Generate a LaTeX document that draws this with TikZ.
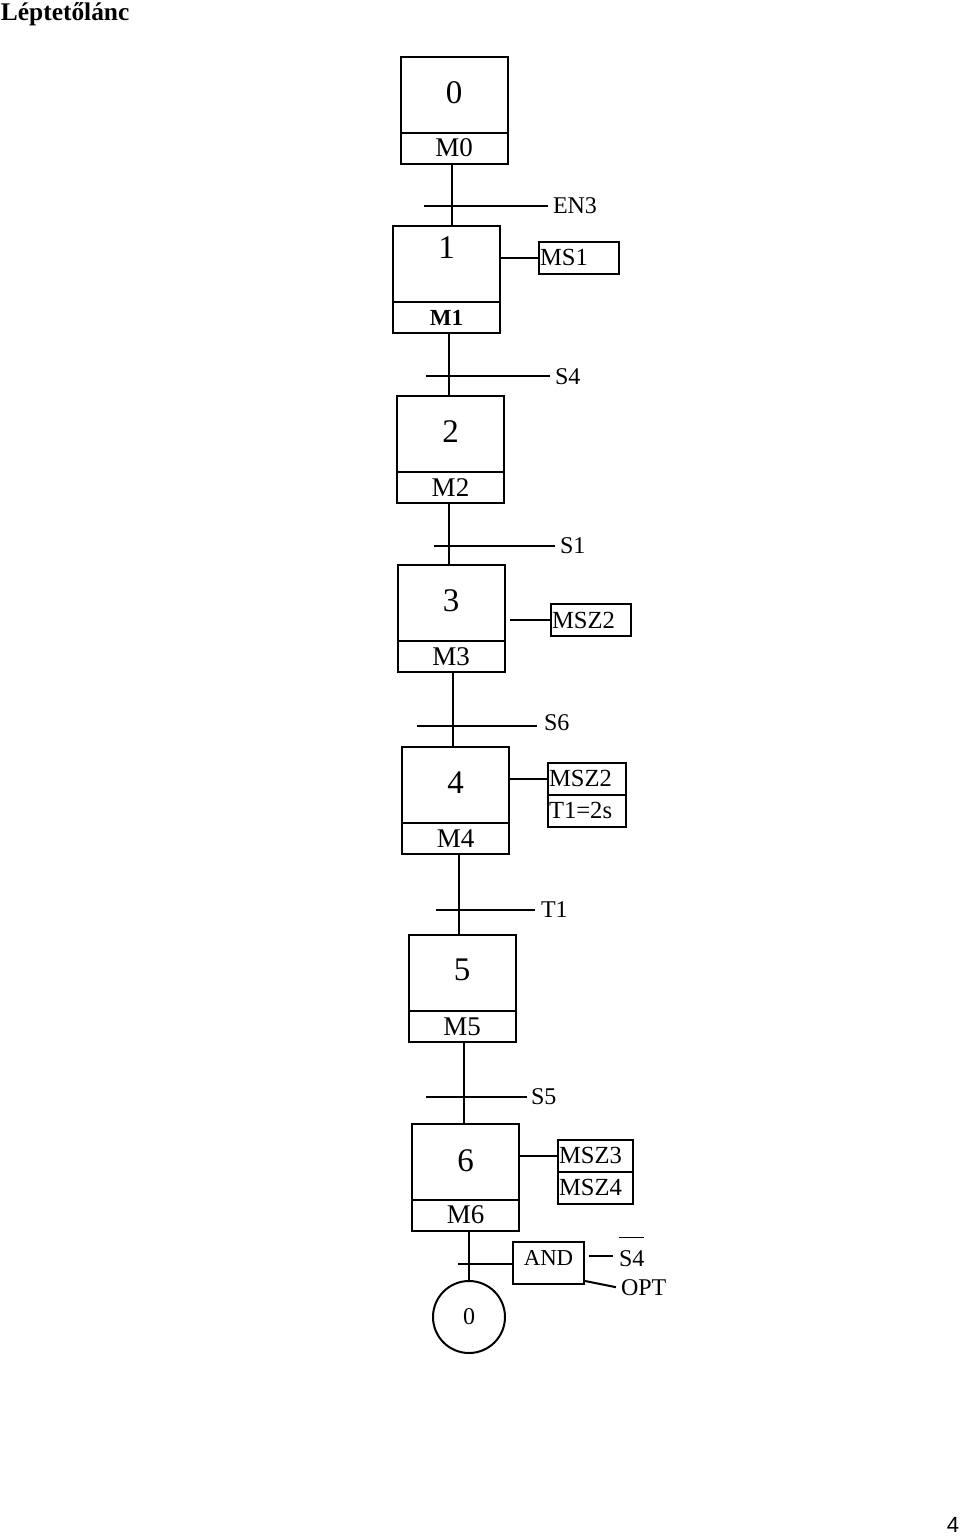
\documentclass[tikz,border=0pt]{standalone}
\usepackage{fontspec}
\setmainfont{Liberation Serif}
\setsansfont{Liberation Sans}
\usepackage{tikz}
\usetikzlibrary{positioning}

\newcommand{\negsig}[1]{\setbox0\hbox{#1}\rlap{\rule[\dimexpr\ht0+6pt\relax]{\wd0}{0.6pt}}#1}

\begin{document}
\begin{tikzpicture}[
    x=0.5pt, y=-0.5pt,
    line width=1pt,
    stepbox/.style={rectangle, draw, minimum width=53.5pt, minimum height=53.5pt, inner sep=0pt, outer sep=0pt},
    markbox/.style={rectangle, draw, minimum width=53.5pt, minimum height=15.5pt, inner sep=0pt, outer sep=0pt, anchor=south, font=\fontsize{13.5}{15}\selectfont},
    stepnum/.style={inner sep=0pt, font=\fontsize{16.5}{18}\selectfont},
    cond/.style={inner xsep=2pt, inner ysep=0pt, anchor=west, font=\fontsize{12}{14}\selectfont},
    actbox/.style={rectangle, draw, text width=#1, align=left, minimum height=16pt, inner xsep=0.5pt, inner ysep=0pt, outer sep=0pt, font=\fontsize{12.3}{14}\selectfont},
    endstep/.style={circle, draw, minimum size=36pt, inner sep=0pt, font=\fontsize{12}{14}\selectfont}
]
    \useasboundingbox (0,0) rectangle (960,1538);

    % Title and page number
    \node[anchor=base west, inner sep=0pt, font=\fontsize{12.7}{15}\selectfont\bfseries] (title) at (0,20) {Léptetőlánc};
    \node[anchor=base east, inner sep=0pt, font=\sffamily\fontsize{11}{13}\selectfont] (page) at (960,1532) {4};

    % Steps
    \node[stepbox] (s0) at (454,110) {};
    \node[markbox] (m0) at (s0.south) {M0};
    \node[stepnum] (n0) at ([yshift=-18pt]s0.north) {0};

    \node[stepbox] (s1) at (446.5,279.5) {};
    \node[markbox, font=\fontsize{11.5}{13}\selectfont\bfseries] (m1) at (s1.south) {M1};
    \node[stepnum] (n1) at ([yshift=-11pt]s1.north) {1};

    \node[stepbox] (s2) at (450.5,449.5) {};
    \node[markbox] (m2) at (s2.south) {M2};
    \node[stepnum] (n2) at ([yshift=-18pt]s2.north) {2};

    \node[stepbox] (s3) at (451,618.5) {};
    \node[markbox] (m3) at (s3.south) {M3};
    \node[stepnum] (n3) at ([yshift=-18pt]s3.north) {3};

    \node[stepbox] (s4) at (455.5,800.5) {};
    \node[markbox] (m4) at (s4.south) {M4};
    \node[stepnum] (n4) at ([yshift=-18pt]s4.north) {4};

    \node[stepbox] (s5) at (462,988.5) {};
    \node[markbox] (m5) at (s5.south) {M5};
    \node[stepnum] (n5) at ([yshift=-17.5pt]s5.north) {5};

    \node[stepbox] (s6) at (465.5,1177) {};
    \node[markbox] (m6) at (s6.south) {M6};
    \node[stepnum] (n6) at ([yshift=-18.5pt]s6.north) {6};

    \node[endstep] (e0) at (469,1317) {0};

    % Actions
    \node[actbox=39pt, anchor=west] (a1) at (539,257.5) {MS1};
    \node[actbox=39pt, anchor=west] (a3) at (551,620) {MSZ2};
    \node[actbox=38pt, anchor=west] (a4) at (548,778.5) {MSZ2};
    \node[actbox=38pt, below=0pt of a4] (a4t) {T1=2s};
    \node[actbox=36.5pt, anchor=west] (a6) at (558,1155.5) {MSZ3};
    \node[actbox=36.5pt, below=0pt of a6] (a6b) {MSZ4};

    \draw (s1.east |- a1.west) -- (a1.west);
    \draw ([xshift=2.5pt]s3.east |- a3.west) -- (a3.west);
    \draw (s4.east |- a4.west) -- (a4.west);
    \draw (s6.east |- a6.west) -- (a6.west);

    % Transitions
    \coordinate (t0) at (452,206);
    \coordinate (t1) at (449,376);
    \coordinate (t2) at (449,546);
    \coordinate (t3) at (453,726);
    \coordinate (t4) at (459,910);
    \coordinate (t5) at (464,1097);
    \coordinate (t6) at (469,1264);

    \node[cond] (c0) at (548,206) {EN3};
    \node[cond] (c1) at (550,377) {S4};
    \node[cond] (c2) at (555,546) {S1};
    \node[cond, inner xsep=3pt] (c3) at (537,723) {S6};
    \node[cond, inner xsep=2.5pt] (c4) at (535,910) {T1};
    \node[cond, inner xsep=1.5pt] (c5) at (527,1097) {S5};

    \draw (s0.south -| t0) -- (t0 |- s1.north);
    \draw (s1.south -| t1) -- (t1 |- s2.north);
    \draw (s2.south -| t2) -- (t2 |- s3.north);
    \draw (s3.south -| t3) -- (t3 |- s4.north);
    \draw (s4.south -| t4) -- (t4 |- s5.north);
    \draw (s5.south -| t5) -- (t5 |- s6.north);
    \draw (s6.south -| t6) -- (e0.north);

    \draw ([xshift=-14pt]t0) -- (c0.west |- t0);
    \draw ([xshift=-11.5pt]t1) -- (c1.west |- t1);
    \draw ([xshift=-7.5pt]t2) -- (c2.west |- t2);
    \draw ([xshift=-18pt]t3) -- (c3.west |- t3);
    \draw ([xshift=-11.5pt]t4) -- (c4.west |- t4);
    \draw ([xshift=-19pt]t5) -- (c5.west |- t5);

    % Last transition
    \node[rectangle, draw, minimum width=35.5pt, minimum height=21pt, inner sep=0pt, font=\fontsize{11.4}{13}\selectfont] (and) at (548.5,1263) {\raisebox{5pt}{AND}};
    \node[cond, anchor=base west, inner xsep=2.5pt] (ns4) at (613,1266) {\negsig{S4}};
    \node[cond, anchor=base west] (opt) at (616,1295) {OPT};

    \draw ([xshift=-5.5pt]t6) -- (and.west |- t6);
    \draw ([xshift=2pt]and.east |- 0,1256) -- (ns4.base west |- 0,1256);
    \draw ([yshift=2pt]and.south east) -- (opt.west);
\end{tikzpicture}
\end{document}
